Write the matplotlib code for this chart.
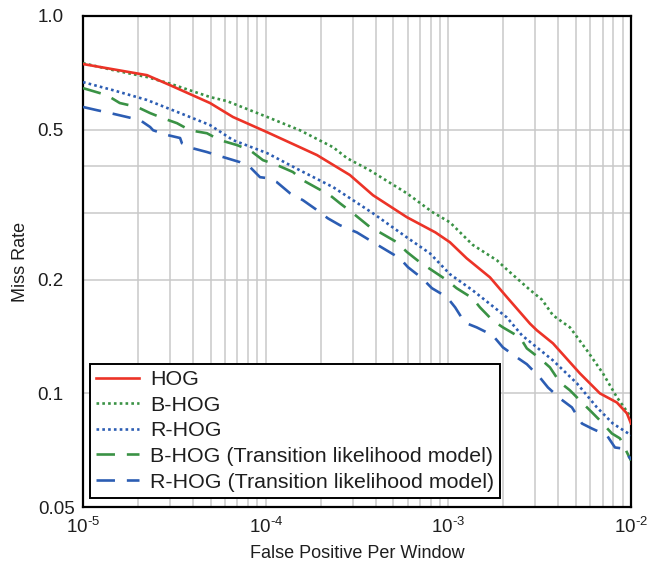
import matplotlib
matplotlib.use('Agg')
import matplotlib.pyplot as plt
from matplotlib.ticker import FixedLocator, FixedFormatter, NullFormatter
from matplotlib.transforms import ScaledTranslation

plt.rcParams['font.family'] = ['Liberation Sans', 'DejaVu Sans']
plt.rcParams['mathtext.fontset'] = 'custom'
plt.rcParams['mathtext.rm'] = 'Liberation Sans'
plt.rcParams['mathtext.it'] = 'Liberation Sans:italic'
plt.rcParams['mathtext.bf'] = 'Liberation Sans:bold'

# ---------------- data ----------------
series_names = ['HOG', 'B-HOG', 'R-HOG',
                'B-HOG (Transition likelihood model)',
                'R-HOG (Transition likelihood model)']

hog_x = [1e-5, 2.24e-5, 2.99e-5, 4.96e-5, 6.62e-5, 1.02e-4, 1.54e-4, 1.91e-4, 2.89e-4,
         3.87e-4, 5.93e-4, 8.5e-4, 1.02e-3, 1.26e-3, 1.69e-3, 2.09e-3, 2.8e-3, 3.05e-3,
         3.74e-3, 5.25e-3, 6.76e-3, 8.37e-3, 9.5e-3, 1e-2]
hog_y = [0.746, 0.697, 0.656, 0.588, 0.540, 0.492, 0.449, 0.428, 0.379,
         0.335, 0.293, 0.267, 0.2515, 0.228, 0.203, 0.180, 0.153, 0.147,
         0.1357, 0.113, 0.100, 0.0946, 0.0885, 0.0832]

bhog_x = [1e-5, 1.46e-5, 2.24e-5, 2.99e-5, 4.96e-5, 6.14e-5, 1.02e-4, 1.54e-4, 2.34e-4,
          2.79e-4, 3.72e-4, 5.93e-4, 8.2e-4, 1.02e-3, 1.36e-3, 1.85e-3, 2.09e-3, 2.8e-3,
          3.26e-3, 3.74e-3, 4.63e-3, 5.74e-3, 7.02e-3, 8.37e-3, 1e-2]
bhog_y = [0.750, 0.719, 0.689, 0.662, 0.610, 0.595, 0.540, 0.498, 0.449,
          0.420, 0.390, 0.339, 0.302, 0.284, 0.2475, 0.225, 0.213, 0.188,
          0.177, 0.161, 0.1496, 0.130, 0.113, 0.0977, 0.0865]

rhog_x = [1e-5, 1.46e-5, 2.24e-5, 3.40e-5, 4.96e-5, 6.62e-5, 1.02e-4, 1.54e-4, 2.34e-4,
          3.87e-4, 5.93e-4, 7.93e-4, 1.02e-3, 1.36e-3, 2.09e-3, 2.53e-3, 3.74e-3,
          5.06e-3, 6.51e-3, 7.96e-3, 1e-2]
rhog_y = [0.668, 0.636, 0.599, 0.553, 0.514, 0.469, 0.433, 0.390, 0.352,
          0.300, 0.259, 0.235, 0.207, 0.1875, 0.159, 0.1425, 0.1223,
          0.1063, 0.0918, 0.0832, 0.0775]

bhog_tl_x = [1e-5, 1.35e-5, 1.59e-5, 1.98e-5, 2.33e-5, 2.74e-5, 3.27e-5, 3.85e-5, 4.77e-5,
             5.62e-5, 6.96e-5, 8.2e-5, 9.66e-5, 1.15e-4, 1.41e-4, 1.60e-4, 1.91e-4, 2.25e-4,
             2.55e-4, 3.01e-4, 3.72e-4, 4.22e-4, 5.23e-4, 5.93e-4, 6.99e-4, 8.13e-4,
             9.82e-4, 1.11e-3, 1.36e-3, 1.49e-3, 1.75e-3, 1.99e-3, 2.47e-3, 2.69e-3,
             3.17e-3, 3.60e-3, 4.08e-3, 4.63e-3, 5.39e-3, 6.11e-3, 6.76e-3, 7.86e-3,
             8.7e-3, 1e-2]
bhog_tl_y = [0.644, 0.617, 0.588, 0.574, 0.553, 0.536, 0.520, 0.498, 0.489,
             0.469, 0.455, 0.441, 0.415, 0.403, 0.386, 0.367, 0.350, 0.335,
             0.319, 0.300, 0.276, 0.267, 0.2515, 0.237, 0.2225, 0.212,
             0.1995, 0.190, 0.1786, 0.169, 0.156, 0.1496, 0.1407, 0.1316,
             0.1238, 0.1172, 0.107, 0.1019, 0.0946, 0.0891, 0.0848, 0.0783,
             0.076, 0.0664]

rhog_tl_x = [1e-5, 1.19e-5, 1.41e-5, 1.74e-5, 2.05e-5, 2.33e-5, 2.42e-5, 2.88e-5, 3.40e-5,
             3.48e-5, 4.0e-5, 4.77e-5, 5.84e-5, 7.23e-5, 8.2e-5, 9.31e-5, 1.02e-4, 1.15e-4,
             1.36e-4, 1.60e-4, 1.91e-4, 2.19e-4, 2.55e-4, 3.16e-4, 3.87e-4, 4.39e-4,
             5.43e-4, 6.01e-4, 7.17e-4, 8.13e-4, 9.82e-4, 1.09e-3, 1.23e-3, 1.43e-3,
             1.75e-3, 1.99e-3, 2.37e-3, 2.69e-3, 3.17e-3, 3.51e-3, 4.08e-3, 4.75e-3,
             5.39e-3, 6.11e-3, 7.38e-3, 8.17e-3, 9.03e-3, 1e-2]
rhog_tl_y = [0.574, 0.563, 0.553, 0.540, 0.530, 0.508, 0.498, 0.484, 0.475,
             0.460, 0.446, 0.436, 0.423, 0.410, 0.398, 0.374, 0.372, 0.363,
             0.339, 0.325, 0.306, 0.291, 0.279, 0.267, 0.2515, 0.2425,
             0.228, 0.216, 0.202, 0.190, 0.180, 0.169, 0.154, 0.1496,
             0.1425, 0.1324, 0.1246, 0.1195, 0.1102, 0.1037, 0.0970, 0.0918,
             0.0832, 0.0807, 0.0774, 0.0719, 0.0714, 0.0668]

x_major = [1e-5, 1e-4, 1e-3, 1e-2]
x_major_labels = [r'10$^{\text{-5}}$', r'10$^{\text{-4}}$',
                  r'10$^{\text{-3}}$', r'10$^{\text{-2}}$']
y_major = [0.05, 0.1, 0.2, 0.5, 1.0]
y_major_labels = ['0.05', '0.1', '0.2', '0.5', '1.0']
y_minor_grid = [0.3, 0.4]

# ---------------- styles ----------------
RED = '#ec3327'
GREEN = '#3a9245'
BLUE = '#2c5db3'
TXT = '#1e1e1e'

fig = plt.figure(figsize=(6.49, 5.67), dpi=100)
ax = fig.add_axes([83/649, 1-507/567, 548/649, 491/567])
ax.set_xscale('log')
ax.set_yscale('log')
ax.set_xlim(1e-5, 1e-2)
ax.set_ylim(0.05, 1.0)

lw = 1.9
ax.plot(hog_x, hog_y, color=RED, lw=lw, ls='-', label=series_names[0], zorder=5)
ax.plot(bhog_x, bhog_y, color=GREEN, lw=lw, ls=(0, (1, 1.2)), label=series_names[1], zorder=4)
ax.plot(rhog_x, rhog_y, color=BLUE, lw=lw, ls=(0, (1, 1.2)), label=series_names[2], zorder=4)
ax.plot(bhog_tl_x, bhog_tl_y, color=GREEN, lw=lw, ls=(0, (7, 4.5)), label=series_names[3], zorder=3)
ax.plot(rhog_tl_x, rhog_tl_y, color=BLUE, lw=lw, ls=(0, (7, 4.5)), label=series_names[4], zorder=3)

# ticks & grid
ax.xaxis.set_major_locator(FixedLocator(x_major))
ax.xaxis.set_major_formatter(FixedFormatter(x_major_labels))
ax.xaxis.set_minor_locator(matplotlib.ticker.LogLocator(base=10, subs=range(2, 10)))
ax.xaxis.set_minor_formatter(NullFormatter())
ax.yaxis.set_major_locator(FixedLocator(y_major))
ax.yaxis.set_major_formatter(FixedFormatter(y_major_labels))
ax.yaxis.set_minor_locator(FixedLocator(y_minor_grid))
ax.yaxis.set_minor_formatter(NullFormatter())
ax.tick_params(which='both', length=0, labelsize=13.5, colors=TXT)
ax.tick_params(axis='x', pad=7)
ax.tick_params(axis='y', pad=14)
ax.grid(True, which='both', color='#c9c9c9', lw=1.1)
ax.set_axisbelow(True)
for sp in ax.spines.values():
    sp.set_linewidth(1.6)
    sp.set_color('black')

# the lowest y label sits closer to the axis corner in the original
fig.canvas.draw()
for lab in ax.yaxis.get_ticklabels():
    if lab.get_text() == '0.05':
        lab.set_transform(lab.get_transform() + ScaledTranslation(11/100, 0, fig.dpi_scale_trans))

ax.set_xlabel('False Positive Per Window', fontsize=13, color=TXT, labelpad=6)
ax.set_ylabel('Miss Rate', fontsize=13, color=TXT, labelpad=6)

leg = ax.legend(loc='lower left', bbox_to_anchor=(7/548, 9/491), borderaxespad=0,
                fontsize=15.4, frameon=True, fancybox=False, framealpha=1,
                edgecolor='black', handlelength=2.0, handletextpad=0.5,
                labelspacing=0.31, borderpad=0.3)
leg.get_frame().set_linewidth(1.4)
for t in leg.get_texts():
    t.set_color(TXT)

fig.savefig('out.png', dpi=100)
